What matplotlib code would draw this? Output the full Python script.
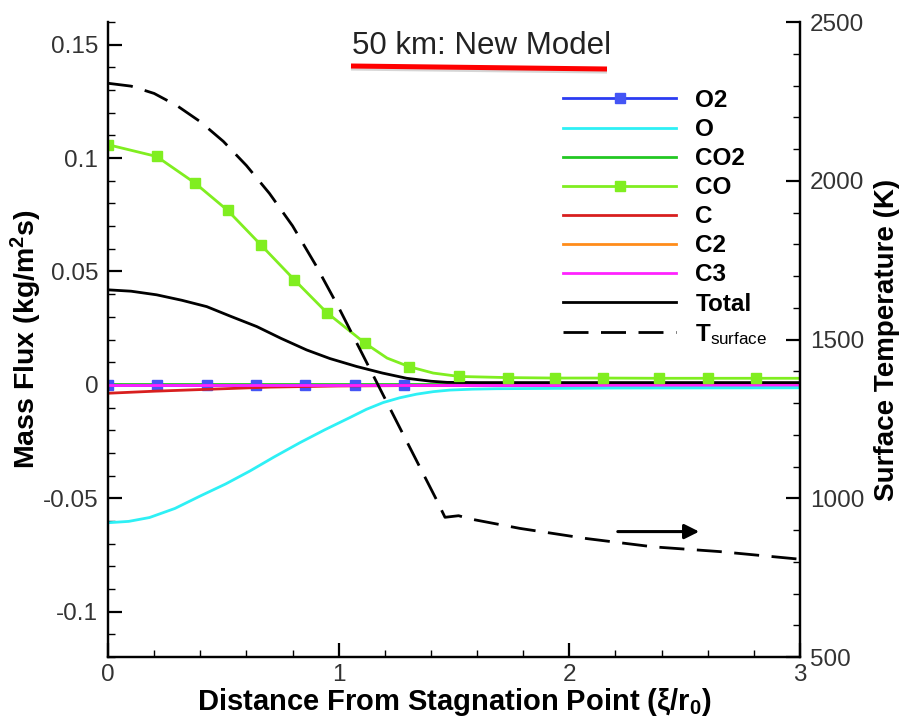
import matplotlib
matplotlib.use('Agg')
import matplotlib.pyplot as plt
import matplotlib.patheffects as pe
from matplotlib.lines import Line2D
from matplotlib.ticker import MultipleLocator, FuncFormatter

plt.rcParams['font.family'] = ['Liberation Sans', 'DejaVu Sans']
plt.rcParams['mathtext.fontset'] = 'custom'
plt.rcParams['mathtext.rm'] = 'Liberation Sans'
plt.rcParams['mathtext.bf'] = 'Liberation Sans:bold'
plt.rcParams['mathtext.it'] = 'Liberation Sans:italic'
plt.rcParams['axes.unicode_minus'] = False

# species mass flux along the wall (kg/m^2 s), 50 km case
o2_x = [0, 0.214, 0.428, 0.642, 0.856, 1.07, 1.284, 2.0, 3.0]
o2_y = [0, 0, 0, 0, 0, 0, 0, 0, 0]
o2_marks = [0, 1, 2, 3, 4, 5, 6]

o_x = [0, 0.09, 0.18, 0.29, 0.40, 0.51, 0.615, 0.72, 0.832, 0.94, 1.049, 1.12,
       1.193, 1.265, 1.338, 1.41, 1.482, 1.58, 1.685, 2.2, 3.0]
o_y = [-0.0608, -0.0602, -0.0585, -0.0545, -0.049, -0.0437, -0.038, -0.0318,
       -0.0255, -0.0198, -0.0144, -0.0108, -0.0078, -0.0057, -0.0041, -0.0030,
       -0.0023, -0.0019, -0.0017, -0.0014, -0.0013]

co2_x = [0, 3.0]
co2_y = [0.0003, 0.0003]

co_x = [0, 0.211, 0.377, 0.519, 0.663, 0.808, 0.948, 1.114, 1.21, 1.306, 1.41,
        1.523, 1.735, 1.938, 2.147, 2.39, 2.60, 2.81, 3.0]
co_y = [0.1059, 0.1007, 0.089, 0.0769, 0.0617, 0.0463, 0.0319, 0.0184, 0.0118,
        0.008, 0.0052, 0.0037, 0.0032, 0.003, 0.003, 0.0029, 0.0029, 0.0029, 0.0029]
co_marks = [0, 1, 2, 3, 4, 5, 6, 7, 9, 11, 12, 13, 14, 15, 16, 17]

c_x = [0, 0.2, 0.45, 0.7, 1.0, 1.5, 3.0]
c_y = [-0.0037, -0.0028, -0.0019, -0.0010, -0.0005, -0.0002, -0.0001]

c2_x = [0, 3.0]
c2_y = [0, 0]

c3_x = [0, 3.0]
c3_y = [0, 0]

tot_x = [0, 0.1, 0.211, 0.32, 0.428, 0.53, 0.645, 0.75, 0.861, 0.962, 1.078,
         1.19, 1.295, 1.40, 1.47, 1.6, 2.0, 3.0]
tot_y = [0.0419, 0.0413, 0.0397, 0.0373, 0.0345, 0.0303, 0.0257, 0.0205, 0.0154,
         0.0116, 0.0081, 0.0052, 0.0029, 0.0016, 0.0011, 0.0010, 0.0010, 0.0010]

# surface temperature (K)
t_x = [0, 0.1, 0.2, 0.3, 0.4, 0.5, 0.6, 0.7, 0.8, 0.9, 1.0, 1.1, 1.2, 1.3,
       1.425, 1.461, 1.52, 1.569, 1.786, 2.075, 2.363, 2.652, 2.97, 3.0]
t_y = [2307, 2298, 2275, 2236, 2186, 2124, 2048, 1960, 1858, 1735, 1601, 1458,
       1315, 1172, 994, 940, 945, 935, 905, 873, 847, 832, 810, 808]

fig = plt.figure(figsize=(9.02, 7.17), dpi=100)
ax = fig.add_axes([108 / 902, 1 - 657 / 717, 692 / 902, 635 / 717])
ax2 = ax.twinx()

lw = 2.0
ax.plot(co2_x, co2_y, color='#22c822', lw=lw, label='CO2')
ax.plot(c2_x, c2_y, color='#ff8c1a', lw=lw, label='C2')
ax.plot(o2_x, o2_y, color='#2b3cf2', lw=lw, marker='s', ms=6.5,
        markevery=o2_marks, mfc='#4455f5', mec='#4455f5', label='O2')
ax.plot(c_x, c_y, color='#d81f1f', lw=lw, label='C')
ax.plot(c3_x, c3_y, color='#ff22ff', lw=lw, label='C3')
ax.plot(o_x, o_y, color='#2ef0f5', lw=lw, label='O')
ax.plot(tot_x, tot_y, color='black', lw=lw, label='Total')
ax.plot(co_x, co_y, color='#80ee20', lw=lw, marker='s', ms=6.5,
        markevery=co_marks, label='CO')
ax2.plot(t_x, t_y, color='black', lw=2.0, dashes=(9, 4.5),
         label=r'$\mathbf{T}_{\mathrm{surface}}$')

ax.set_xlim(0, 3)
ax.set_ylim(-0.12, 0.16)
ax2.set_ylim(500, 2500)

ax.xaxis.set_major_locator(MultipleLocator(1))
ax.xaxis.set_minor_locator(MultipleLocator(0.2))
ax.yaxis.set_major_locator(MultipleLocator(0.05))
ax.yaxis.set_minor_locator(MultipleLocator(0.01))
ax2.yaxis.set_major_locator(MultipleLocator(500))
ax2.yaxis.set_minor_locator(MultipleLocator(100))
ax.yaxis.set_major_formatter(FuncFormatter(lambda v, p: '%g' % round(v, 3)))
ax.xaxis.set_major_formatter(FuncFormatter(lambda v, p: '%g' % v))

for a in (ax, ax2):
    a.spines['top'].set_visible(False)
    for s in a.spines.values():
        s.set_linewidth(1.6)
ax.tick_params(which='both', direction='in', top=False, right=False,
               labelsize=17.5, labelcolor='#333333', width=1.6)
ax.tick_params(which='major', length=10, pad=7)
ax.tick_params(which='minor', length=5, width=1.0)
ax.tick_params(axis='x', which='major', pad=5)
ax2.tick_params(which='both', direction='in', labelsize=17.5,
                labelcolor='#333333', width=1.6)
ax2.tick_params(which='major', length=10, pad=7)
ax2.tick_params(which='minor', length=5, width=1.0)

ax.set_xlabel('Distance From Stagnation Point (ξ/r$_\\mathbf{0}$)',
              fontsize=21, fontweight='bold', labelpad=0)
ax.set_ylabel('Mass Flux (kg/m$^\\mathbf{2}$s)', fontsize=20.5,
              fontweight='bold', labelpad=-1)
ax2.set_ylabel('Surface Temperature (K)', fontsize=20, fontweight='bold',
               labelpad=7)

# legend order as listed in the key
handles = {l.get_label(): l for l in ax.get_lines()}
order = ['O2', 'O', 'CO2', 'CO', 'C', 'C2', 'C3', 'Total']
leg_h = [handles[k] for k in order] + ax2.get_lines()
leg_l = order + [r'$\mathbf{T}_{\mathrm{surface}}$']
leg = ax2.legend(leg_h, leg_l, loc='upper left',
                 bbox_to_anchor=(563 / 902, 1 - 89 / 717),
                 bbox_transform=fig.transFigure, frameon=False,
                 prop={'size': 17.5, 'weight': 'bold'}, handlelength=4.65,
                 handletextpad=0.8, labelspacing=0.25, borderpad=0,
                 borderaxespad=0)

# heading with red underline
fig.text(482 / 902, 1 - 46 / 717, '50 km: New Model', fontsize=22.5,
         color='#222222', ha='center', va='center')
underline = Line2D([351 / 902, 607 / 902], [1 - 66 / 717, 1 - 69 / 717],
                   transform=fig.transFigure, color='#ff0000', lw=3.6,
                   solid_capstyle='butt',
                   path_effects=[pe.SimpleLineShadow(offset=(0, -1.5),
                                                     shadow_color='#999999',
                                                     alpha=0.4),
                                 pe.Normal()])
fig.add_artist(underline)

# arrow pointing to the temperature axis
ax.annotate('', xy=(2.575, -0.0647), xytext=(2.198, -0.0647),
            arrowprops=dict(arrowstyle='-|>', color='black', lw=2.2,
                            mutation_scale=22))

fig.savefig('out.png', dpi=100)
